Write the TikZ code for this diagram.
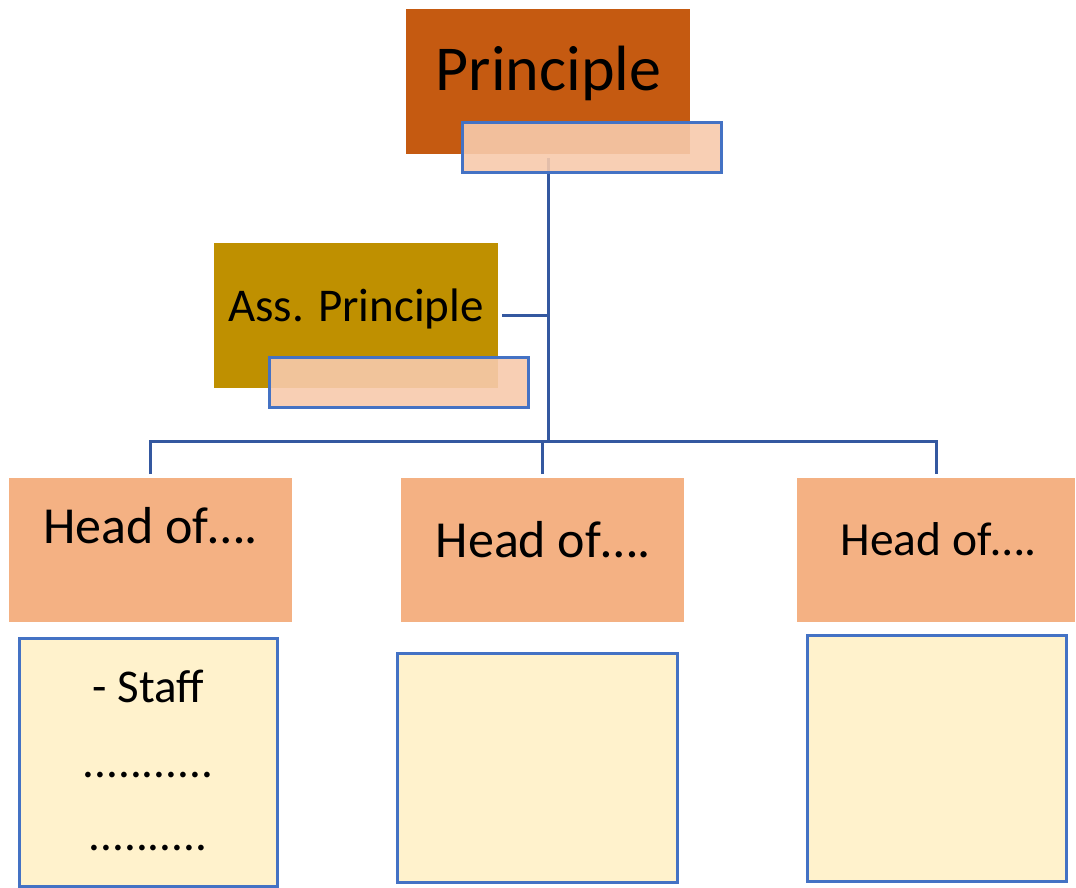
\documentclass[tikz,border=0pt]{standalone}
\usepackage{fontspec}
\setmainfont{Carlito}
\usetikzlibrary{positioning}
\definecolor{prinorange}{RGB}{197,90,17}
\definecolor{assgold}{RGB}{191,144,0}
\definecolor{headpeach}{RGB}{244,177,131}
\definecolor{tagpeach}{RGB}{247,202,172}
\definecolor{notecream}{RGB}{255,242,204}
\definecolor{boxblue}{RGB}{68,114,196}
\definecolor{linkblue}{RGB}{52,88,160}
\tikzstyle{block}=[rectangle,draw=none,inner sep=0pt,outer sep=4pt]
\tikzstyle{tagbox}=[rectangle,draw=boxblue,line width=3pt,fill=tagpeach,fill opacity=0.9,inner sep=0pt,minimum width=259pt,minimum height=49pt]
\tikzstyle{notebox}=[rectangle,draw=boxblue,line width=3pt,fill=notecream,inner sep=0pt]
\tikzstyle{link}=[draw=linkblue,line width=3pt]
\tikzstyle{txt}=[anchor=base,inner sep=0pt]

\begin{document}
\begin{tikzpicture}[x=1pt,y=-1pt]
  \useasboundingbox (0,0) rectangle (1076,888);

  \node[block,fill=prinorange,minimum width=284pt,minimum height=145pt] (prin) at (548,81.5) {};
  \node[block,fill=assgold,minimum width=284pt,minimum height=145pt] (ass) at (356,315.5) {};

  \foreach \x/\w/\name in {150.5/283/head1, 542.5/283/head2, 936/278/head3}
         \node[block,fill=headpeach,minimum width=\w pt,minimum height=144pt] (\name) at (\x,550) {};

  \foreach \x/\y/\w/\h/\name in {148/762/258/248/note1, 537/767.5/280/229/note2, 936.5/758/259/246/note3}
         \node[notebox,minimum width=\w pt,minimum height=\h pt] (\name) at (\x,\y) {};

  % connectors
  \coordinate (bus) at (548,441);
  \path[link] (prin.south) -- (bus);
  \path[link] (ass.east) -- (ass.east -| bus);
  \path[link] (head1.north) |- (bus -| head3.north) -- (head3.north);
  \path[link] (head2.north) -- (head2.north |- bus);

  \node[tagbox] (printag) at (591.5,147.5) {};
  \node[tagbox,minimum height=50pt] (asstag) at (398.5,382) {};

  \node[txt,font=\fontsize{64}{77}\selectfont] (printxt) at (548.5,91) {Principle};
  \node[txt,font=\fontsize{47}{56}\selectfont] (asstxt) at (356,321) {Ass. Principle};

  \foreach \x/\y/\s/\name in {150.5/543/52/head1txt, 543/557/52/head2txt, 938.5/555/47.5/head3txt}
         \node[txt,font=\fontsize{\s}{60}\selectfont] (\name) at (\x,\y) {Head of….};

  \node[txt,font=\fontsize{47}{56}\selectfont] (stafftxt) at (148.5,702) {- Staff};
  \node[txt,font=\fontsize{47}{56}\selectfont] (dotsa) at (148,777) {...........};
  \node[txt,font=\fontsize{47}{56}\selectfont] (dotsb) at (148,850) {..........};

\end{tikzpicture}
\end{document}
